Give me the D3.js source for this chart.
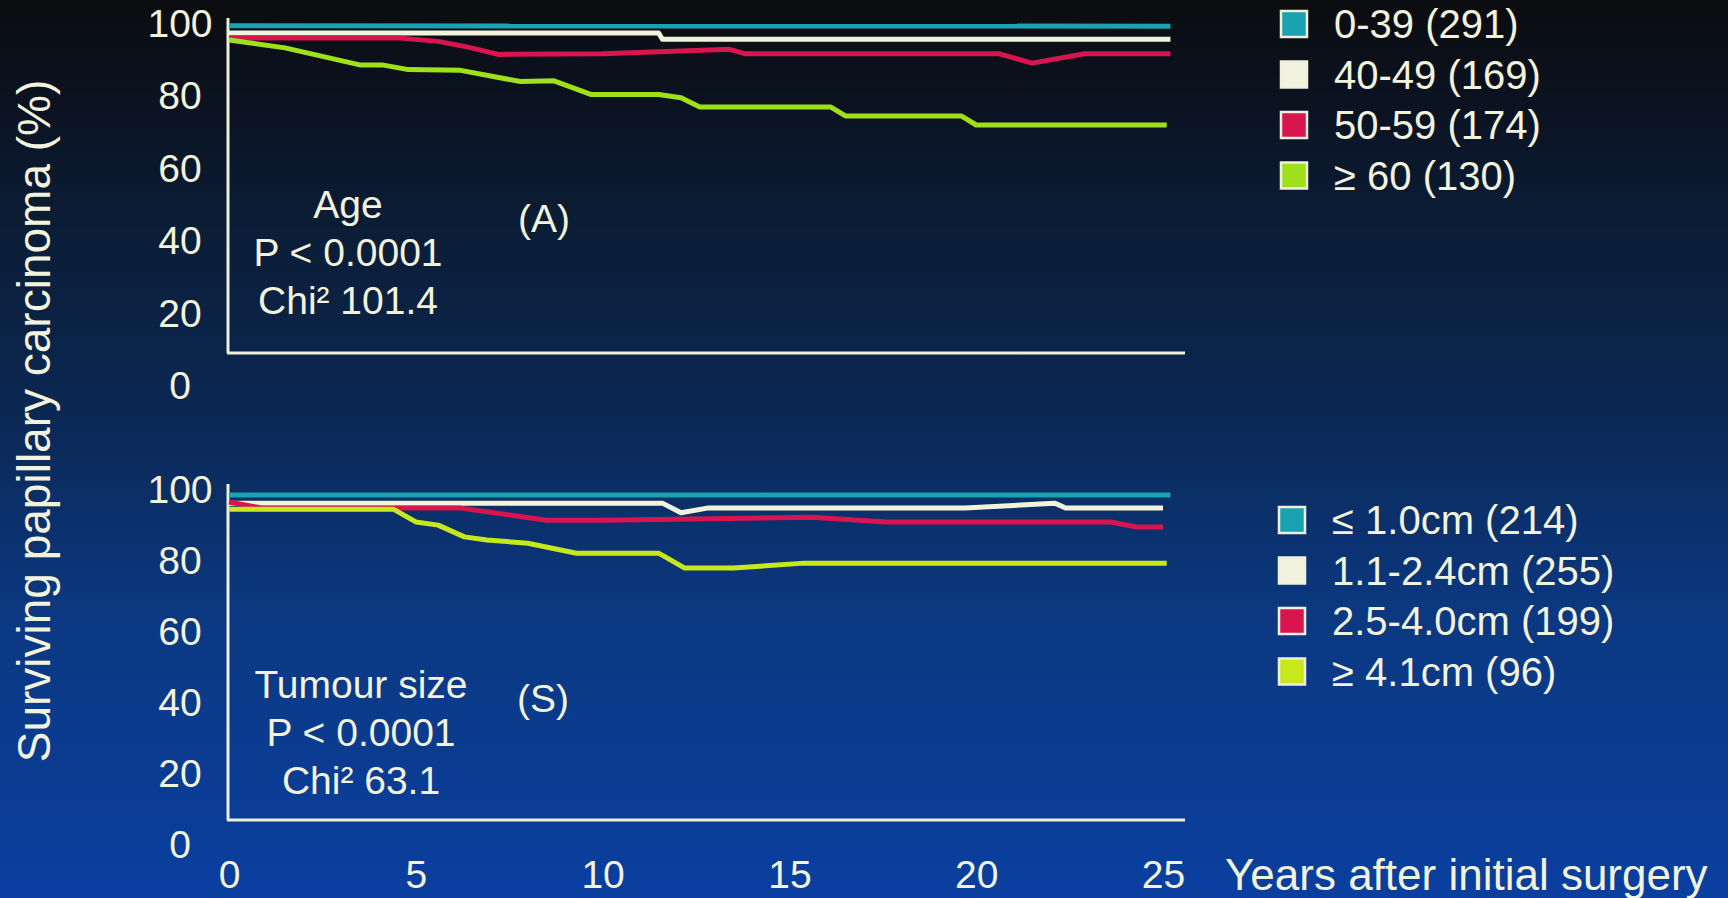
<!DOCTYPE html>
<html>
<head>
<meta charset="utf-8">
<script src="https://cdn.jsdelivr.net/npm/d3@7"></script>
<style>
body{margin:0;background:#0b0c0f;overflow:hidden}
text{font-family:"Liberation Sans",Arial,sans-serif;fill:#f2f3dc}
</style>
</head>
<body>
<div id="chart"></div>
<script>
// data: [years, % surviving]
let yearTicks=[0,5,10,15,20,25]
let pctTicks=[0,20,40,60,80,100]

let ageLabels=["0-39 (291)","40-49 (169)","50-59 (174)","\u2265 60 (130)"]
let age039=[[0,99.5],[25.2,99.4]]
let age4049=[[0,97.5],[11.5,97.5],[11.6,95.8],[25.2,95.8]]
let age5059=[[0,96.1],[4.6,96.1],[5.6,95.2],[6.4,93.6],[7.2,91.6],[10,91.8],[13.4,93.0],[13.8,91.8],[20.6,91.8],[21.5,89.2],[22.9,91.8],[25.2,91.8]]
let age60=[[0,95.6],[1.5,93.4],[3.5,88.7],[4.1,88.7],[4.8,87.4],[6.2,87.2],[7.8,84.1],[8.7,84.3],[9.7,80.5],[11.5,80.5],[12.1,79.6],[12.6,77.1],[16.1,77.1],[16.5,74.6],[19.6,74.6],[20.0,72.1],[25.1,72.1]]

let sizeLabels=["\u2264 1.0cm (214)","1.1-2.4cm (255)","2.5-4.0cm (199)","\u2265 4.1cm (96)"]
let size10=[[0,98.6],[25.2,98.6]]
let size1124=[[0,96.3],[11.6,96.3],[12.1,93.6],[12.8,94.9],[19.7,94.9],[22.1,96.3],[22.4,94.9],[25,94.9]]
let size2540=[[0,96.6],[0.9,94.9],[6.2,94.9],[8.5,91.5],[10,91.5],[15.6,92.3],[17.6,91.0],[23.6,91.0],[24.3,89.6],[25,89.6]]
let size41=[[0,94.6],[4.4,94.6],[5.0,91.0],[5.6,90.1],[6.3,86.8],[6.9,85.9],[8.0,85.0],[9.3,82.2],[11.5,82.2],[12.2,78.0],[13.5,78.0],[15.4,79.4],[25.1,79.4]]

let colors=["#1ba2b0","#f2f3dc","#d8154f","#9fe01c"]
let sizeGreen="#c6e81c"

let svgWidth=1728
let svgHeight=898

let svg=d3.select("#chart")
.append("svg")
.attr("width",svgWidth)
.attr("height",svgHeight)

//background gradient
let grad=svg.append("defs").append("linearGradient")
.attr("id","bg").attr("x1",0).attr("y1",0).attr("x2",0).attr("y2",1)
grad.append("stop").attr("offset","0").attr("stop-color","#0b0c0f")
grad.append("stop").attr("offset","0.12").attr("stop-color","#0b1322")
grad.append("stop").attr("offset","0.25").attr("stop-color","#0b1d36")
grad.append("stop").attr("offset","0.45").attr("stop-color","#0b2752")
grad.append("stop").attr("offset","0.68").attr("stop-color","#0b3880")
grad.append("stop").attr("offset","1").attr("stop-color","#0a3fa0")
svg.append("rect").attr("width",svgWidth).attr("height",svgHeight).attr("fill","url(#bg)")

let xScale=d3.scaleLinear().domain([0,25]).range([229,1163])
let axisColor="#eef0dc"

function panel(opt){
    let yScale=d3.scaleLinear().domain([0,100]).range([opt.y0,opt.y100])
    let g=svg.append("g")
    //y tick labels (centred in a column, like the slide)
    g.append("g")
    .attr("transform","translate(228,0)")
    .call(d3.axisLeft(yScale).tickValues(pctTicks).tickSize(0))
    .call(a=>a.select(".domain").remove())
    .selectAll("text").style("font-size","39px").attr("fill","#f2f3dc")
    .attr("text-anchor","middle").attr("x",-48)
    //frame lines
    g.append("line").attr("x1",228).attr("x2",228).attr("y1",opt.y100-6).attr("y2",opt.base)
    .attr("stroke",axisColor).attr("stroke-width",3)
    g.append("line").attr("x1",227).attr("x2",1185).attr("y1",opt.base).attr("y2",opt.base)
    .attr("stroke",axisColor).attr("stroke-width",3)
    //curves
    let line=d3.line().x(d=>xScale(d[0])).y(d=>yScale(d[1]))
    g.selectAll("path.curve")
    .data(opt.series)
    .enter()
    .append("path")
    .attr("class","curve")
    .attr("d",d=>line(d))
    .attr("fill","none")
    .attr("stroke",(d,i)=>opt.colors[i])
    .attr("stroke-width",5)
    .attr("stroke-linejoin","round")
    //stats text
    opt.notes.forEach((t,i)=>{
        g.append("text").attr("x",opt.noteX).attr("y",opt.noteY+i*48)
        .attr("text-anchor","middle").attr("dy","0.35em")
        .style("font-size","39px").text(t)
    })
    g.append("text").attr("x",opt.tagX).attr("y",opt.tagY)
    .attr("text-anchor","middle").attr("dy","0.35em")
    .style("font-size","39px").text(opt.tag)
    //legend
    let leg=g.selectAll("g.leg")
    .data(opt.labels)
    .enter()
    .append("g")
    .attr("transform",(d,i)=>`translate(${opt.legX},${opt.legY+i*50.5})`)
    leg.append("rect").attr("x",0).attr("y",-13).attr("width",26).attr("height",26)
    .attr("fill",(d,i)=>opt.colors[i]).attr("stroke","#eef0dc").attr("stroke-width",2.5)
    leg.append("text").attr("x",53).attr("dy","0.36em")
    .style("font-size","40px").text(d=>d)
}

panel({
    y0:386,y100:24,base:353,
    series:[age039,age4049,age5059,age60],
    colors:colors,
    notes:["Age","P < 0.0001","Chi\u00b2 101.4"],
    noteX:348,noteY:204,
    tag:"(A)",tagX:544,tagY:218,
    labels:ageLabels,legX:1281,legY:24
})

panel({
    y0:845,y100:490,base:820,
    series:[size10,size1124,size2540,size41],
    colors:[colors[0],colors[1],colors[2],sizeGreen],
    notes:["Tumour size","P < 0.0001","Chi\u00b2 63.1"],
    noteX:361,noteY:684,
    tag:"(S)",tagX:543,tagY:698,
    labels:sizeLabels,legX:1279,legY:520
})

//x axis labels
svg.append("g")
.attr("transform","translate(0,845)")
.call(d3.axisBottom(xScale).tickValues(yearTicks).tickSize(0).tickPadding(15))
.call(a=>a.select(".domain").remove())
.selectAll("text").style("font-size","39px").attr("fill","#f2f3dc")

//axis titles
svg.append("text")
.attr("x",1225).attr("y",874).attr("dy","0.36em")
.style("font-size","44px")
.text("Years after initial surgery")
svg.append("text")
.attr("transform","translate(33,421) rotate(-90)")
.attr("text-anchor","middle").attr("dy","0.36em")
.style("font-size","46px")
.text("Surviving papillary carcinoma (%)")
</script>
</body>
</html>
